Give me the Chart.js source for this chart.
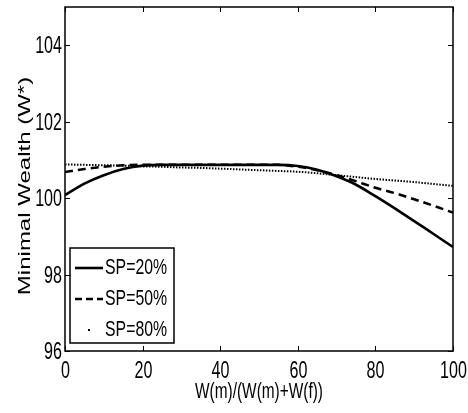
<!DOCTYPE html>
<html>
<head>
<meta charset="utf-8">
<script src="https://cdn.jsdelivr.net/npm/chart.js@4"></script>
<style>
  html, body { margin: 0; padding: 0; background: #fff; }
  #wrap { width: 468px; height: 413px; position: relative; }
</style>
</head>
<body>
<div id="wrap"><canvas id="chart"></canvas></div>
<script>
// share of wealth held by m (%)
var shares = [0, 5, 10, 15, 20, 25, 30, 35, 40, 45, 50, 55, 60, 65, 70, 75, 80, 85, 90, 95, 100];

// minimal wealth W* for each SP level
var sp20 = [100.08, 100.38, 100.60, 100.76, 100.85, 100.87, 100.87, 100.87, 100.87, 100.87, 100.87, 100.87, 100.84, 100.74, 100.57, 100.35, 100.05, 99.73, 99.40, 99.06, 98.72];
var sp50 = [100.68, 100.76, 100.82, 100.86, 100.87, 100.87, 100.87, 100.87, 100.87, 100.87, 100.87, 100.87, 100.82, 100.73, 100.60, 100.44, 100.27, 100.13, 99.97, 99.80, 99.62];
var sp80 = [100.88, 100.87, 100.86, 100.85, 100.83, 100.82, 100.80, 100.79, 100.77, 100.75, 100.73, 100.71, 100.69, 100.65, 100.60, 100.55, 100.50, 100.46, 100.42, 100.37, 100.32];

var labels = ['SP=20%', 'SP=50%', 'SP=80%'];
var xTicks = [0, 20, 40, 60, 80, 100];
var yTicks = [96, 98, 100, 102, 104];
var xTitle = 'W(m)/(W(m)+W(f))';
var yTitle = 'Minimal Wealth (W*)';

var FAMILY = "'Liberation Sans', Arial, sans-serif";

// the original figure is squeezed sideways, so text is drawn narrowed
function squeezed(c, str, x, y, size, sx, align, rot) {
  c.save();
  c.translate(x, y);
  if (rot) { c.rotate(-Math.PI / 2); c.scale(1, sx); }
  else c.scale(sx, 1);
  c.font = size + 'px ' + FAMILY;
  c.textAlign = align;
  c.textBaseline = 'middle';
  c.fillStyle = '#000';
  c.fillText(str, 0, 0);
  c.restore();
}

// MATLAB style box with inward ticks, labels and legend
var framePlugin = {
  id: 'frame',
  afterDatasetsDraw: function (chart) {
    var c = chart.ctx, a = chart.chartArea;
    var xs = chart.scales.x, ys = chart.scales.y;
    c.save();
    c.strokeStyle = '#000';
    c.lineWidth = 1.5;
    c.strokeRect(a.left, a.top, a.right - a.left, a.bottom - a.top);
    c.lineWidth = 1;
    c.beginPath();
    xTicks.forEach(function (v) {
      var px = Math.round(xs.getPixelForValue(v)) + 0.5;
      c.moveTo(px, a.bottom); c.lineTo(px, a.bottom - 5);
      c.moveTo(px, a.top); c.lineTo(px, a.top + 5);
      squeezed(c, String(v), px, a.bottom + 21, 23, 0.7, 'center');
    });
    yTicks.forEach(function (v) {
      var py = Math.round(ys.getPixelForValue(v)) + 0.5;
      c.moveTo(a.left, py); c.lineTo(a.left + 5, py);
      c.moveTo(a.right, py); c.lineTo(a.right - 5, py);
      squeezed(c, String(v), a.left - 3, py + 1.5, 23, 0.7, 'right');
    });
    c.stroke();

    squeezed(c, xTitle, (a.left + a.right) / 2, a.bottom + 41, 22, 0.7, 'center');
    squeezed(c, yTitle, 25, (a.top + a.bottom) / 2 + 7, 24, 0.7, 'center', true);

    // legend box, lower left inside the axes
    var bx = a.left + 5, bw = 104, bh = 95, by = a.bottom - 8 - bh;
    c.fillStyle = '#fff';
    c.fillRect(bx, by, bw, bh);
    c.lineWidth = 1.5;
    c.strokeRect(bx, by, bw, bh);
    var rows = [by + 20, by + 51, by + 82];
    chart.data.datasets.forEach(function (ds, i) {
      var y = rows[i];
      c.strokeStyle = '#000';
      c.fillStyle = '#000';
      c.lineWidth = ds.borderWidth;
      c.setLineDash(i === 1 ? [7, 4] : []);
      if (i === 2) {
        c.fillRect(bx + 18, y - 1, 2, 2);
      } else {
        c.beginPath();
        c.moveTo(bx + 5, y); c.lineTo(bx + 33, y);
        c.stroke();
      }
      c.setLineDash([]);
      squeezed(c, ds.label, bx + 35, y, 22, 0.72, 'left');
    });
    c.restore();
  }
};

var ctx = document.getElementById('chart').getContext('2d');

var data = {
  datasets: [{
    label: labels[0],
    data: shares.map(function (x, i) { return { x: x, y: sp20[i] }; }),
    borderColor: '#000',
    borderWidth: 2.6
  }, {
    label: labels[1],
    data: shares.map(function (x, i) { return { x: x, y: sp50[i] }; }),
    borderColor: '#000',
    borderWidth: 2.5,
    borderDash: [8, 5]
  }, {
    label: labels[2],
    data: shares.map(function (x, i) { return { x: x, y: sp80[i] }; }),
    borderColor: '#000',
    borderWidth: 2,
    borderDash: [1.5, 1.5]
  }]
};

var options = {
  responsive: true,
  maintainAspectRatio: false,
  animation: false,
  layout: { padding: { top: 7, right: 15, left: 0, bottom: 0 } },
  elements: {
    point: { radius: 0 },
    line: { cubicInterpolationMode: 'monotone', fill: false }
  },
  plugins: { legend: { display: false }, tooltip: { enabled: false } },
  scales: {
    x: {
      type: 'linear',
      min: 0, max: 100,
      afterFit: function (s) { s.height = 62; },
      grid: { display: false, drawTicks: false },
      border: { display: false },
      ticks: { display: false }
    },
    y: {
      type: 'linear',
      min: 96, max: 105,
      afterFit: function (s) { s.width = 65; },
      grid: { display: false, drawTicks: false },
      border: { display: false },
      ticks: { display: false }
    }
  }
};

var myChart = new Chart(ctx, {
  type: 'line',
  data: data,
  options: options,
  plugins: [framePlugin]
});
</script>
</body>
</html>
